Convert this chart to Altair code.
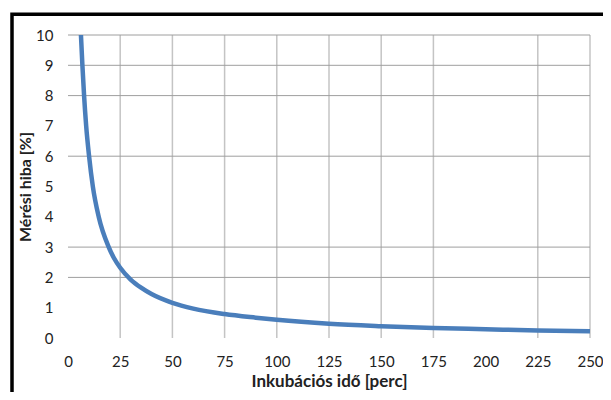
import altair as alt
import pandas as pd

# Curve
time_min = [6.2, 6.9, 7.7, 8.7, 10.1, 11.9, 14.7, 19.5, 22.0, 25.0, 30.0, 35.0, 40.0,
            50.0, 60.0, 75.0, 90.0, 100.0, 125.0, 150.0, 175.0, 200.0, 225.0, 250.0]
error_pct = [10.0, 9.0, 8.0, 7.0, 6.0, 5.0, 4.0, 3.0, 2.64, 2.32, 1.93, 1.66, 1.45,
             1.16, 0.97, 0.79, 0.67, 0.6, 0.47, 0.39, 0.33, 0.29, 0.25, 0.22]

x_ticks = [0, 25, 50, 75, 100, 125, 150, 175, 200, 225, 250]
y_ticks = [0, 1, 2, 3, 4, 5, 6, 7, 8, 9, 10]

# gridlines visible in the reference
x_grid = [25, 50, 75, 100, 125, 150, 175, 225, 250]
y_grid = [2, 3, 6, 8, 9, 10]

FONT = "Lato"

df = pd.DataFrame({"t": time_min, "e": error_pct})
xg = pd.DataFrame({"t": x_grid})
yg = pd.DataFrame({"e": y_grid})

xscale = alt.Scale(domain=[0, 250], nice=False, zero=False)
yscale = alt.Scale(domain=[0, 10], nice=False)

xaxis = alt.Axis(title="Inkubációs idő [perc]", values=x_ticks, grid=False, domain=False,
                 ticks=False, labelFlush=False, labelPadding=16, titlePadding=4,
                 labelFontSize=15, titleFontSize=17, titleFontWeight="bold",
                 labelColor="#222222", titleColor="#222222", labelFont=FONT, titleFont=FONT)
yaxis = alt.Axis(title="Mérési hiba [%]", values=y_ticks, grid=False, domain=False,
                 ticks=False, labelPadding=15, titlePadding=2, labelFontSize=15,
                 titleFontSize=16, titleFontWeight="bold", labelColor="#222222",
                 titleColor="#222222", labelFont=FONT, titleFont=FONT)

frame = alt.Chart(pd.DataFrame({"k": [0]})).mark_rect(
    stroke="black", strokeWidth=3.5, fillOpacity=0, clip=False
).encode(x=alt.value(-56), x2=alt.value(560), y=alt.value(-20.7), y2=alt.value(400))

vgrid = alt.Chart(xg).mark_rule(color="#C4C4C4", strokeWidth=1.5).encode(
    x=alt.X("t:Q", scale=xscale, axis=xaxis)
)
hgrid = alt.Chart(yg).mark_rule(color="#9E9E9E", strokeWidth=1).encode(
    y=alt.Y("e:Q", scale=yscale, axis=yaxis)
)

curve = alt.Chart(df).mark_line(color="#4A7EBB", strokeWidth=4.5, interpolate="monotone").encode(
    x=alt.X("t:Q", scale=xscale, axis=xaxis),
    y=alt.Y("e:Q", scale=yscale, axis=yaxis),
)

chart = alt.layer(frame, vgrid, hgrid, curve).properties(
    width=522, height=303,
    autosize=alt.AutoSizeParams(type="none"),
    padding={"left": 60, "top": 27, "right": 13, "bottom": 54},
    background="white",
).configure_view(stroke="transparent")

chart.save("out.html", embed_options={"renderer": "svg", "actions": False})
